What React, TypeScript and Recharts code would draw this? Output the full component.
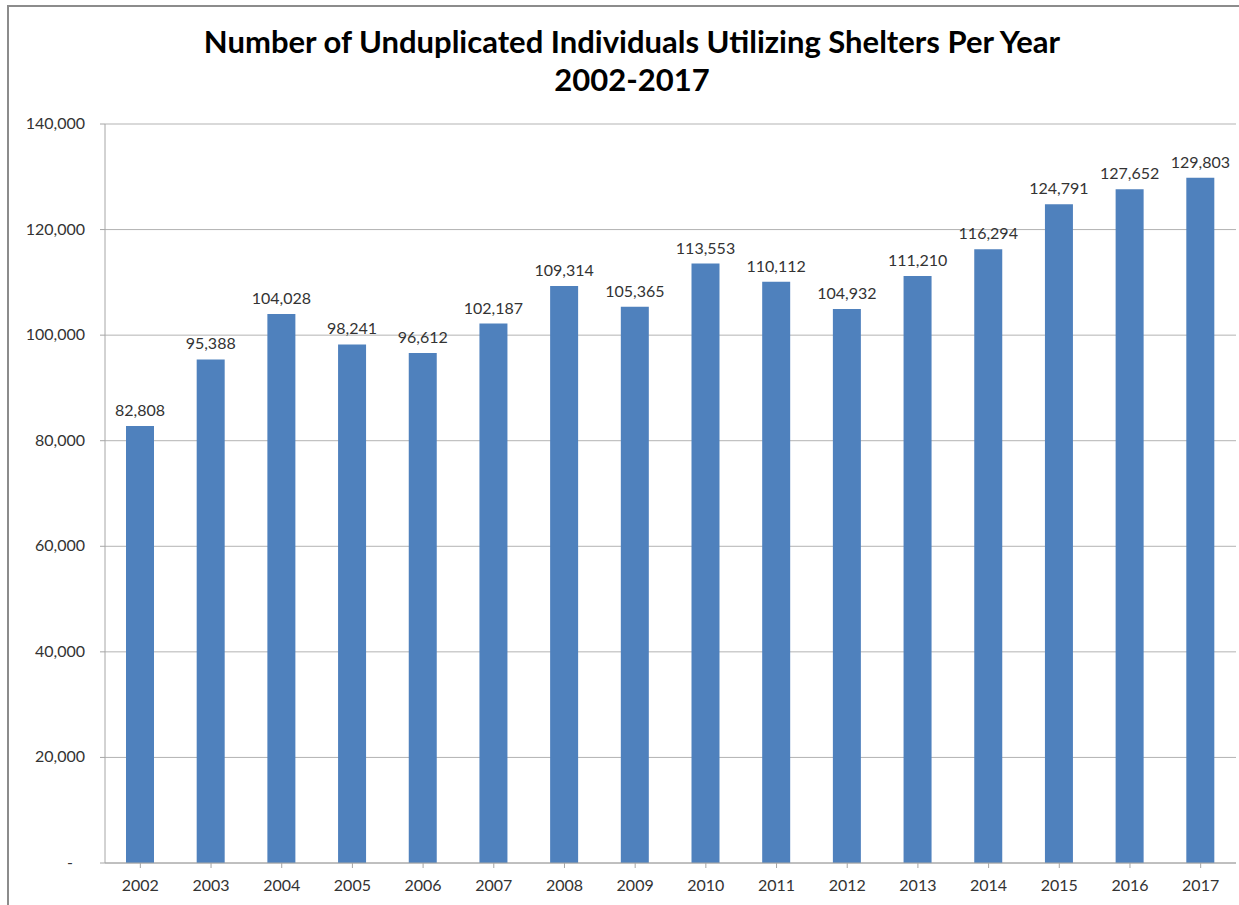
import React from 'react';
import { BarChart, Bar, XAxis, YAxis, CartesianGrid, LabelList } from 'recharts';

const years = ['2002','2003','2004','2005','2006','2007','2008','2009','2010','2011','2012','2013','2014','2015','2016','2017'];
const individuals = [82808, 95388, 104028, 98241, 96612, 102187, 109314, 105365, 113553, 110112, 104932, 111210, 116294, 124791, 127652, 129803];
const yTicks = [0, 20000, 40000, 60000, 80000, 100000, 120000, 140000];
const titleLines = ['Number of Unduplicated Individuals Utilizing Shelters Per Year', '2002-2017'];

const data = years.map((y, i) => ({ year: y, value: individuals[i] }));

const FONT = 'Lato, "Open Sans", sans-serif';
const fmt = (v: number) => v.toLocaleString('en-US');

const YTick = (props: any) => {
  const { x, y, payload } = props;
  const v = payload.value;
  return (
    <text x={v === 0 ? x - 25 : x - 13} y={y} dy={5} textAnchor="end" fill="#333" fontSize={16} fontFamily={FONT}>
      {v === 0 ? '-' : fmt(v)}
    </text>
  );
};

export default function App() {
  return (
    <div style={{ position: 'absolute', left: 0, top: 0, width: 1239, height: 905, background: '#fff', fontFamily: FONT }}>
      <div style={{ position: 'absolute', left: 7, top: 5, width: 1230, height: 900, borderLeft: '2px solid #8c8c8c', borderTop: '2px solid #8c8c8c' }} />
      <div style={{ position: 'absolute', left: 0, top: 22, width: 1264, textAlign: 'center', fontWeight: 700, fontSize: 31, lineHeight: '38px', color: '#000' }}>
        <div>{titleLines[0]}</div>
        <div>{titleLines[1]}</div>
      </div>
      <div style={{ position: 'absolute', left: 0, top: 0 }}>
        <BarChart width={1239} height={905} data={data} margin={{ top: 124, right: 3, left: 10, bottom: 6 }} barCategoryGap="30%">
          <CartesianGrid horizontal vertical={false} stroke="#b3b3b3" />
          <XAxis dataKey="year" stroke="#a6a6a6" tickLine={{ stroke: '#a6a6a6' }} tickSize={5} height={36}
            tick={{ fill: '#333', fontSize: 16, fontFamily: FONT }} tickMargin={12} interval={0} />
          <YAxis domain={[0, 140000]} ticks={yTicks} width={95} stroke="#a6a6a6" tickLine={{ stroke: '#a6a6a6' }} tickSize={5}
            tick={<YTick />} interval={0} />
          <Bar dataKey="value" fill="#4f81bd" isAnimationActive={false} barSize={28}>
            <LabelList dataKey="value" position="top" offset={10} formatter={(v: any) => fmt(Number(v))}
              style={{ fill: '#333', fontSize: 16, fontFamily: FONT }} />
          </Bar>
        </BarChart>
      </div>
    </div>
  );
}
